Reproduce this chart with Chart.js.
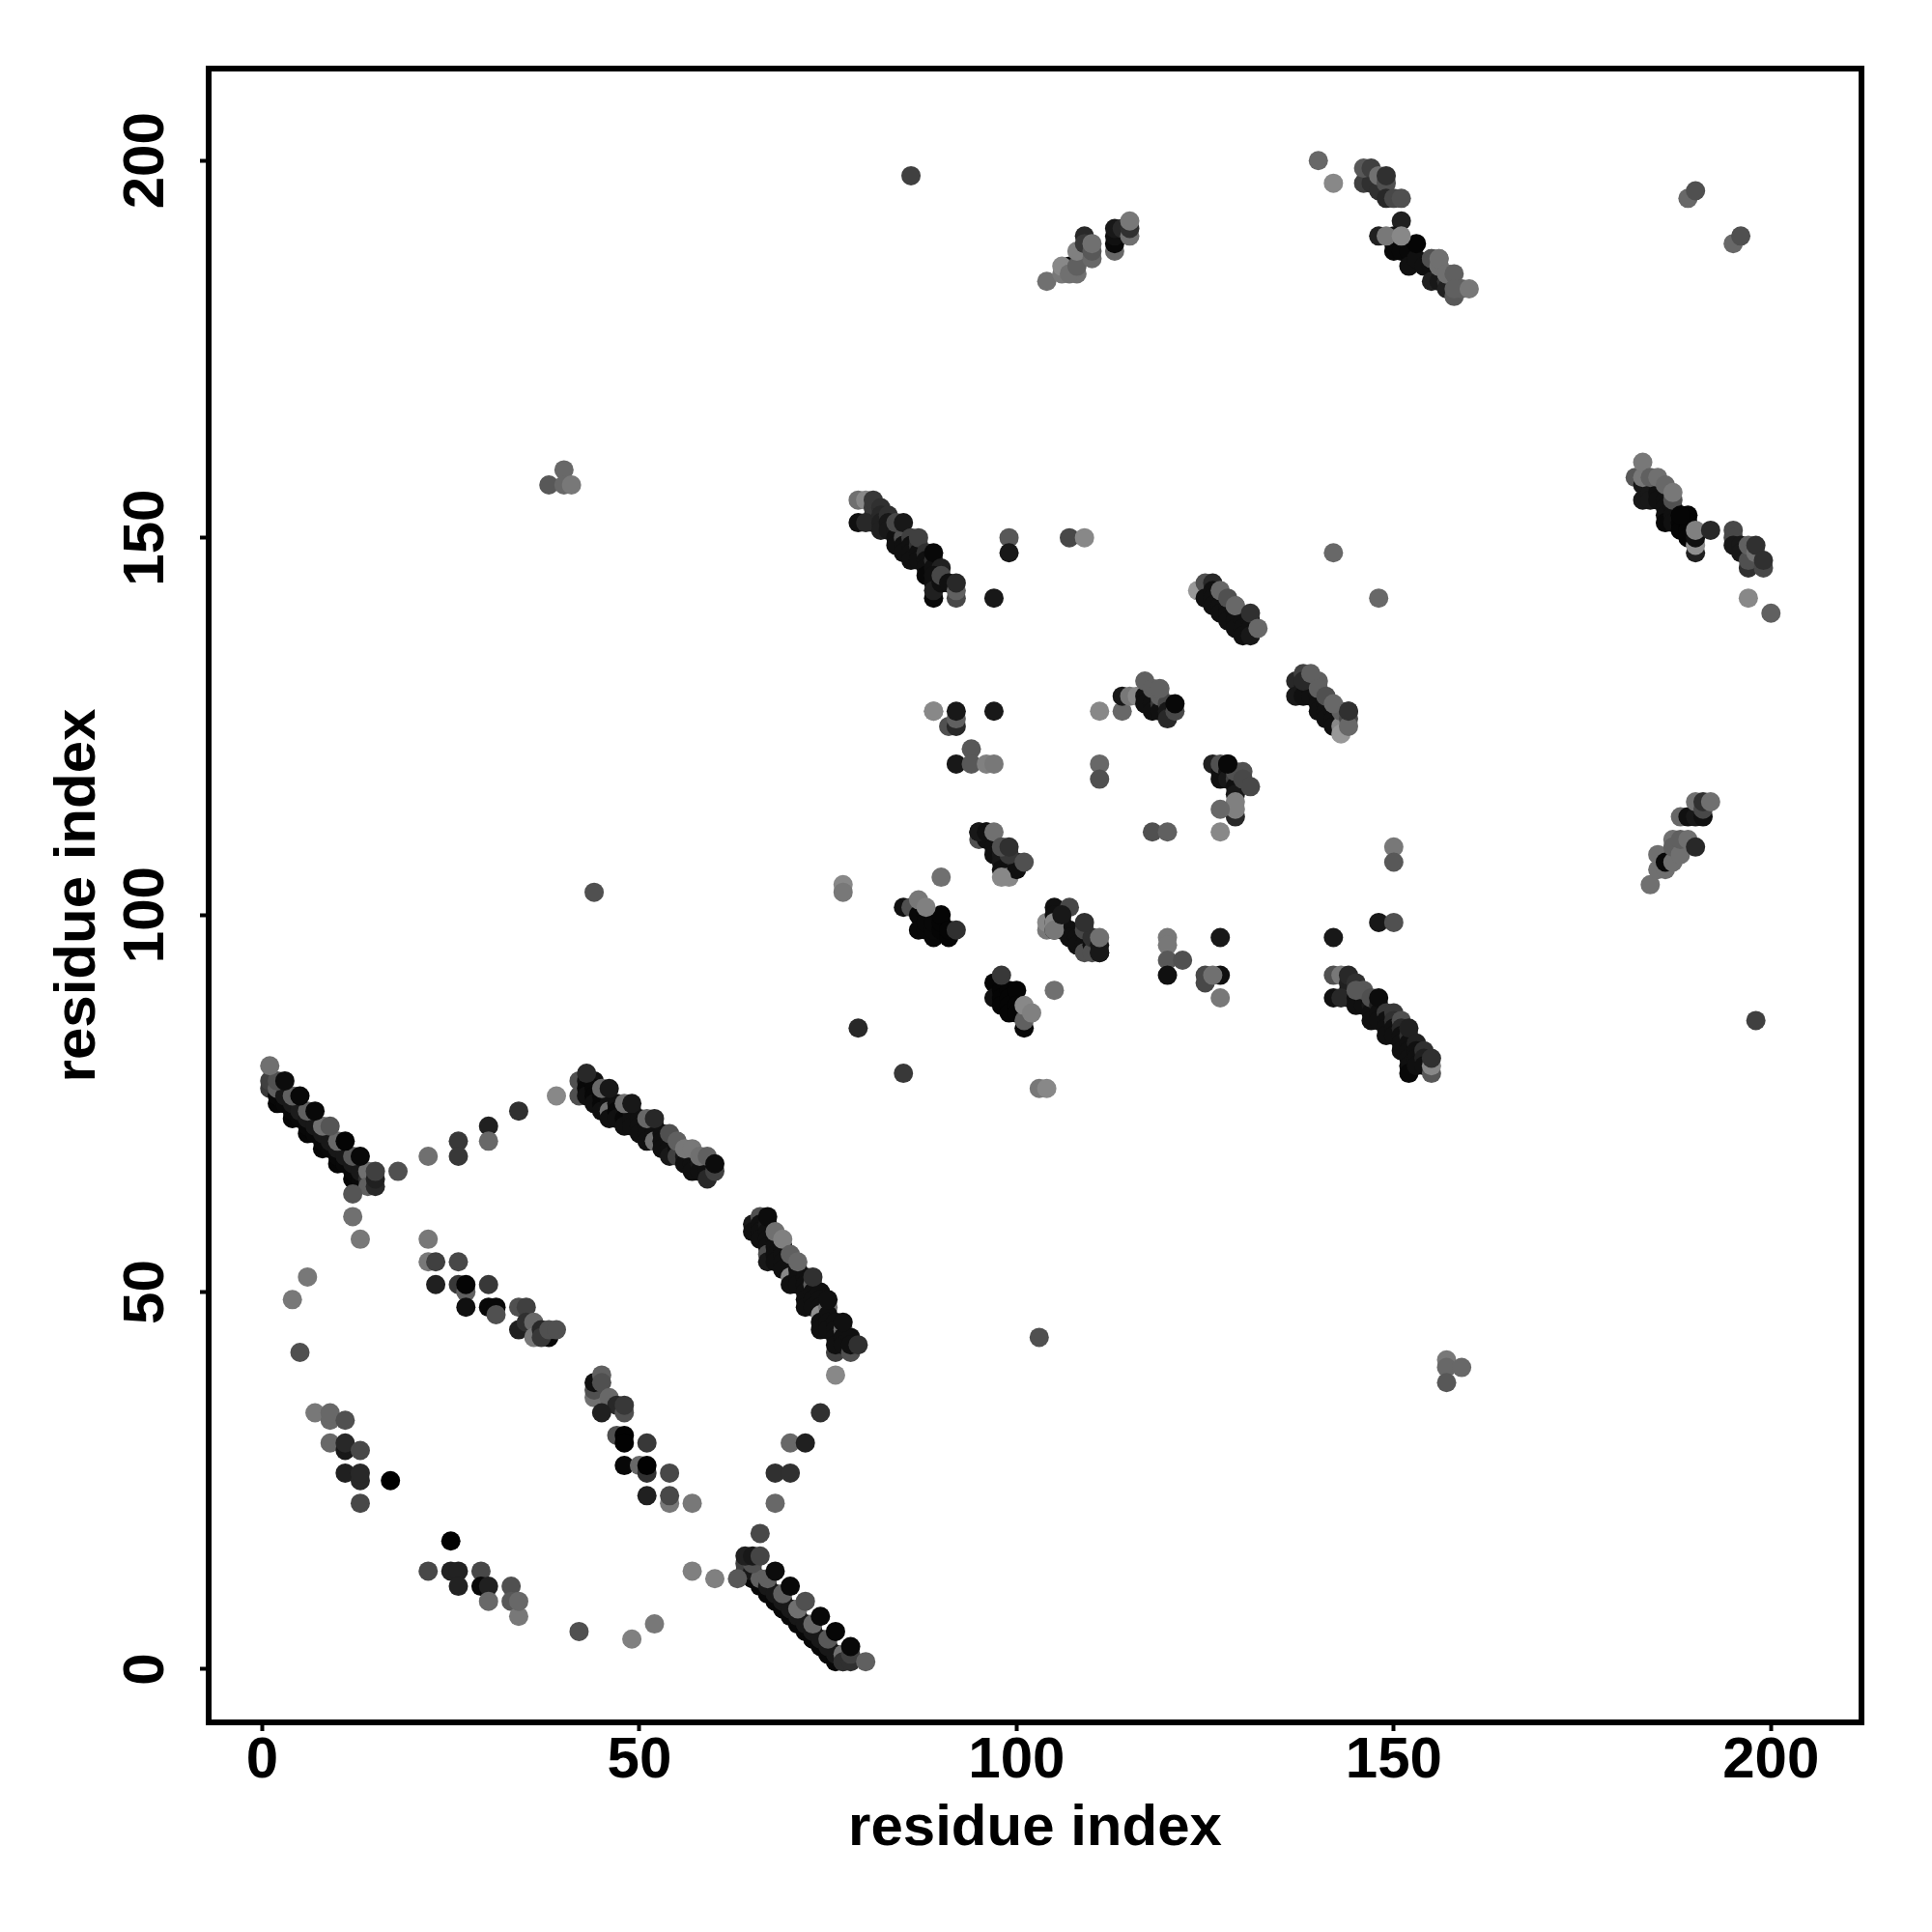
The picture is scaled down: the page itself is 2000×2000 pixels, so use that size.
<!DOCTYPE html>
<html>
<head>
<meta charset="utf-8">
<title>residue contacts</title>
<script src="https://cdn.jsdelivr.net/npm/chart.js@4"></script>
<style>
    body { margin: 0; background: #fff; }
    canvas { display: block; }
</style>
</head>
<body>
<canvas id="contactChart" width="2000" height="2000"></canvas>
<script>
const axisTitle = 'residue index';
const tickValues = [0, 50, 100, 150, 200];
const tickLabels = ['0', '50', '100', '150', '200'];

// shade = grey level of each contact (0 black .. 255 white)

// lone contacts
const scatterX = [86,198,38,40,40,41,157,157,157,159,44,103,6,4,5,42,49,52,57,60,63,66,68,68,70,70,72,74,76,22,26,26,30,30,34,39,18,12,12,13,79,85,77,77,90,89,97,99,99,107,109,142,148,111,111,118,120,127,120,120,120,122,120,127,127,125,125,126,127,105,142,148,150,150,150,103,104,197,200,189,190,195,196,140,142];
const scatterY = [198,86,157,159,157,157,41,40,38,40,103,44,52,49,42,5,4,6,13,12,12,18,22,26,26,30,30,34,39,68,70,68,72,70,74,76,66,63,60,57,85,79,104,103,105,127,142,150,148,150,150,148,142,120,118,111,111,111,97,96,94,94,92,97,92,92,91,92,89,90,97,99,99,109,107,77,77,142,140,195,196,189,190,200,197];
const scatterShade = [0x40,0x40,0x58,0x68,0x68,0x78,0x78,0x68,0x58,0x68,0x50,0x50,0x78,0x78,0x50,0x50,0x80,0x78,0x80,0x80,0x58,0x48,0x68,0x30,0x30,0x68,0x20,0x30,0x88,0x70,0x38,0x38,0x20,0x68,0x30,0x88,0x50,0x55,0x70,0x78,0x28,0x38,0x88,0x78,0x70,0x88,0x18,0x58,0x18,0x48,0x88,0x68,0x68,0x68,0x50,0x50,0x60,0x88,0x78,0x78,0x58,0x50,0x10,0x18,0x10,0x48,0x48,0x70,0x78,0x70,0x18,0x18,0x50,0x78,0x58,0x78,0x88,0x88,0x60,0x68,0x50,0x68,0x50,0x68,0x88];

// strip residues 1-16 against 64-80
const stripAX = [2,4,6,8,10,12, 1,2,3,4,5,6,7,8,9,10,11,12,13, 1,2,3,4,5,6,7,8,9,10,11,12,13,14, 2,4,6,8,10,12,14, 14,15,15, 1,3,5,7,9,11,13,15];
const stripAY = [75,73,71,69,67,65, 77,76,75,74,73,72,71,70,69,68,67,66,65, 78,77,76,75,74,73,72,71,70,69,68,67,66,65, 78,76,74,72,70,68,66, 64,64,65, 80,78,76,74,72,70,68,66];
const stripAShade = [6,6,6,6,6,6, 0x38,0x08,0x08,0x08,0x08,0x08,0x08,0x08,0x08,0x08,0x08,0x08,0x08, 0x40,0x60,0x18,0x18,0x1c,0x18,0x18,0x18,0x18,0x18,0x18,0x18,0x18,0x30, 0x50,0x60,0x60,0x70,0x68,0x58,0x70, 0x60,0x28,0x20, 0x70,0x0c,0x08,0x08,0x55,0x04,0x08,0x40];

// strip residues 65-80 against 1-15
const stripBX = [65,67,69,71,73,75, 64,65,66,67,68,69,70,71,72,73,74,75,76, 64,65,66,67,68,69,70,71,72,73,74,75,76,77, 65,67,69,71,73,75,77, 77,78,78, 64,65,66,68,70,72,74,76,78,80];
const stripBY = [12,10,8,6,4,2, 13,12,11,10,9,8,7,6,5,4,3,2,1, 14,13,12,11,10,9,8,7,6,5,4,3,2,1, 14,12,10,8,6,4,2, 1,1,2, 15,15,15,13,11,9,7,5,3,1];
const stripBShade = [6,6,6,6,6,6, 0x38,0x08,0x08,0x08,0x08,0x08,0x08,0x08,0x08,0x08,0x08,0x08,0x08, 0x40,0x18,0x60,0x18,0x18,0x18,0x18,0x18,0x18,0x18,0x18,0x18,0x18,0x30, 0x50,0x60,0x60,0x70,0x68,0x58,0x70, 0x30,0x30,0x40, 0x20,0x18,0x45,0x0c,0x08,0x50,0x08,0x06,0x08,0x60];

// strip residues 42-60 against 65-79
const stripCX = [42,42,43,43,43,44,44,44,44,45,45,45,46,46,46,47,47,47,48,48,48,49,49,49,50,50,50,51,51,51,52,52,52,53,53,53,54,54,54,55,55,56,56,57,57,57,58,58,59,59,59,60, 43,45,46,48,49,51,52,54,55,56,57,58,59,60];
const stripCY = [78,76,78,77,76,78,77,76,75,76,75,74,75,74,73,75,74,73,74,73,72,74,73,72,73,72,71,72,71,70,72,71,70,71,70,69,70,69,68,69,68,68,67,68,67,66,67,66,67,66,65,66, 79,77,77,75,75,73,73,71,70,69,69,68,68,67];
const stripCShade = [0x50,0x50,0x10,8,0x10,0x10,8,8,0x10,8,8,0x10,0x10,0x70,0x10,0x10,8,0x10,0x10,8,0x10,0x18,0x10,0x10,0x10,0x10,0x10,0x10,0x10,0x10,0x10,0x10,0x70,0x10,0x10,0x10,0x10,0x10,0x18,0x10,0x40,0x18,0x10,0x18,0x10,0x10,0x18,0x10,0x18,0x10,0x28,0x40, 0x28,0x68,0x18,0x70,0x18,0x68,0x28,0x50,0x60,0x78,0x78,0x70,0x60,0x0c];

// strip residues 65-79 against 42-60
const stripDX = [65,65,66,66,66,66,67,67,67,67,67,67,68,68,68,68,69,69,69,69,70,70,70,70,71,71,71,72,72,72,72,72,73,73,73,73,74,74,74,74,74,74,75,75,75,75,76,76,76,76,76,77,77,77,78,78,78, 67,68,69,70,71,73,75,77,79];
const stripDY = [59,58,60,59,58,57,59,58,57,56,55,54,57,56,55,54,56,55,54,53,54,53,52,51,53,52,51,52,51,50,49,48,51,50,49,48,50,49,48,47,46,45,48,47,46,45,46,45,44,42,43,45,44,43,44,42,43, 60,58,57,55,54,52,49,46,43];
const stripDShade = [0x18,0x10,0x50,0x10,0x10,0x10,0x18,0x10,0x10,0x10,0x50,0x18,0x10,0x10,0x10,0x10,0x10,0x10,0x10,0x10,0x10,0x10,0x88,0x10,0x10,0x10,0x10,0x10,0x10,0x10,0x10,0x10,0x60,0x10,0x10,0x10,0x10,0x10,0x10,0x90,0x10,0x10,0x70,0x10,0x10,0x10,0x10,0x10,0x10,0x40,0x10,0x70,0x10,0x10,0x10,0x50,0x10, 0x0c,0x70,0x80,0x60,0x68,0x30,0x10,0x10,0x30];

// residues 22-39 against 44-57
const groupEX = [22,22,23,26,23,26,27,27,30,27,30,31,31,34,35,34,35,36,36,37,38,37,38,39];
const groupEY = [57,54,54,54,51,51,50,51,51,48,48,48,47,48,48,45,46,46,44,45,44,44,45,45];
const groupEShade = [0x78,0x78,0x40,0x48,0x20,0x38,0x60,0x05,0x38,0x10,0x08,0x08,0x50,0x50,0x40,0x20,0x30,0x68,0x78,0x28,0x08,0x38,0x50,0x50];

// residues 44-57 against 22-39
const groupFX = [44,44,44,45,45,46,47,48,48,45,47,48,48,51,48,50,51,51,54,51,54,54,57];
const groupFY = [36,37,38,39,38,36,35,34,35,34,31,31,30,30,27,27,26,27,26,23,22,23,22];
const groupFShade = [0x70,0x50,0x10,0x60,0x50,0x68,0x28,0x50,0x38,0x20,0x50,0x02,0x02,0x38,0x08,0x68,0x30,0x02,0x48,0x20,0x78,0x48,0x78];

// residues 7-17 against 22-34 and 22-34 against 7-17
const groupGX = [7,9,9,11,9,11,11,13,11,13,13,17,13, 25,22,25,26,29,26,29,30,30,33,33,34,34];
const groupGY = [34,33,34,33,30,29,30,29,26,25,26,25,22, 17,13,13,13,13,11,11,11,9,11,9,7,9];
const groupGShade = [0x78,0x68,0x68,0x50,0x68,0x18,0x28,0x48,0x20,0x28,0x28,0x00,0x48, 0x02,0x48,0x22,0x22,0x48,0x22,0x08,0x20,0x68,0x50,0x58,0x78,0x68];

// strip residues 79-92 against 142-155
const stripHX = [79,80,81,81,81,79,80,81,82,82,82,82,83,83,83,84,84,84,85,85,85,84,85,86,86,86,86,87,87,87,87,88,88,88,88,89,89,89,90,89,89,89,89,90,90,91,92,92,92];
const stripHY = [155,155,152,153,154,152,152,155,154,153,152,151,153,152,151,151,150,149,150,149,148,152,152,150,149,148,147,149,148,147,150,148,147,146,145,147,146,148,146,144,145,142,143,144,145,144,142,143,144];
const stripHShade = [0x70,0x88,0x10,0x28,0x38,0x10,0x28,0x38,0x30,0x28,0x20,0x20,0x30,0x18,0x18,0x18,0x10,0x10,0x50,0x10,0x10,0x48,0x18,0x40,0x10,0x10,0x10,0x30,0x10,0x10,0x40,0x30,0x10,0x10,0x08,0x30,0x10,0x08,0x20,0x10,0x10,0x08,0x20,0x10,0x48,0x10,0x48,0x60,0x28];

// strip residues 142-155 against 79-92
const stripIX = [142,143,144,144,144,142,143,144,145,145,145,146,146,146,145,147,147,147,147,148,148,148,148,149,149,149,149,150,150,150,150,151,151,151,151,151,152,152,152,152,152,152,152,153,153,153,153,154,154,154,155,155,155];
const stripIY = [92,92,89,90,91,89,89,92,91,89,88,89,88,90,90,88,87,86,89,88,87,86,89,87,86,85,84,87,86,85,84,86,85,84,83,82,84,83,82,81,80,79,85,83,82,81,80,82,81,80,79,80,81];
const stripIShade = [0x50,0x78,0x10,0x10,0x20,0x10,0x28,0x28,0x30,0x10,0x10,0x10,0x10,0x58,0x58,0x18,0x10,0x10,0x50,0x20,0x10,0x10,0x0c,0x38,0x10,0x10,0x10,0x38,0x30,0x10,0x10,0x50,0x28,0x10,0x10,0x10,0x30,0x10,0x10,0x10,0x10,0x08,0x20,0x20,0x10,0x10,0x10,0x30,0x20,0x10,0x58,0x88,0x30];

// residues 124-132 against 136-144
const groupJX = [124,125,126,125,126,126,126,127,127,127,128,128,128,129,129,129,129,130,130,130,131,131,131,127,128,129,131,132];
const groupJY = [143,144,144,142,143,142,141,142,141,140,141,140,139,140,139,138,141,139,138,137,139,138,137,143,142,141,140,138];
const groupJShade = [0x98,0x50,0x28,0x10,0x10,0x10,0x10,0x10,0x10,0x10,0x10,0x10,0x10,0x10,0x10,0x10,0x68,0x10,0x10,0x10,0x10,0x10,0x18,0x68,0x50,0x68,0x30,0x68];

// residues 136-144 against 124-132
const groupKX = [137,137,138,138,138,139,139,139,140,140,140,140,141,141,141,142,142,142,143,143,143,143,144,144,144,138,139,140,141,142,144];
const groupKY = [131,129,132,130,129,131,130,129,131,129,128,127,128,127,126,127,126,125,126,125,124,127,127,126,125,131,132,130,129,128,127];
const groupKShade = [0x28,0x18,0x40,0x18,0x10,0x50,0x10,0x10,0x60,0x10,0x10,0x10,0x10,0x10,0x10,0x10,0x10,0x10,0x10,0x88,0x98,0x60,0x30,0x48,0x68,0x28,0x60,0x60,0x50,0x68,0x30];

// residues 89-97 against 119-127 and 114-121 against 125-131
const groupLX = [89,91,92,92,92,97,94,92,94,96,97, 111,114,114,115,116,117,117,118,118,119,119,119,120,120,120,121,121, 117,118,119];
const groupLY = [127,125,125,126,127,127,122,120,120,120,120, 127,127,129,129,129,129,128,128,127,128,127,129,128,127,126,127,128, 131,130,130];
const groupLShade = [0x88,0x50,0x28,0x60,0x18,0x18,0x58,0x18,0x58,0x80,0x78, 0x88,0x68,0x18,0x78,0x88,0x10,0x10,0x10,0x10,0x38,0x10,0x60,0x48,0x18,0x28,0x48,0x08, 0x60,0x60,0x60];

// residues 125-132 against 113-120
const groupMX = [126,127,127,127,128,128,128,129,129,129,129,130,130,131,128,129,129,129,127];
const groupMY = [120,119,118,120,119,118,120,118,117,116,119,119,118,117,120,113,114,115,114];
const groupMShade = [0x20,0x10,0x10,0x50,0x10,0x18,0x08,0x40,0x10,0x18,0x50,0x50,0x48,0x48,0x08,0x28,0x80,0x80,0x68];

// residues 95-101 against 104-111
const groupNX = [95,95,96,96,97,97,98,98,98,99,99,99,100,100,99,98,101,95,96,97,98,99];
const groupNY = [110,111,111,110,109,108,108,107,106,107,106,105,107,106,108,105,107,111,111,111,109,109];
const groupNShade = [0x50,0x18,0x10,0x10,0x10,0x10,0x18,0x18,0x10,0x10,0x10,0x88,0x20,0x10,0x38,0x88,0x50,0x18,0x10,0x70,0x50,0x30];

// residues 104-111 against 95-101
const groupOX = [104,104,105,105,105,105,106,106,106,107,107,108,108,109,109,109,110,110,111,110,111,111,105,105,107,109,111,106];
const groupOY = [98,99,101,100,99,98,100,99,98,98,97,97,96,96,95,98,96,95,95,97,96,95,99,98,101,99,97,100];
const groupOShade = [0x78,0x88,0x10,0x10,0x10,0x10,0x18,0x10,0x18,0x10,0x10,0x10,0x10,0x10,0x50,0x48,0x10,0x50,0x18,0x30,0x18,0x18,0x88,0x78,0x48,0x30,0x70,0x18];

// residues 85-92 against 97-102
const groupPX = [85,86,87,88,87,88,88,89,89,89,90,90,90,91,91,92,87,88];
const groupPY = [101,101,100,100,98,98,99,97,98,99,98,99,100,97,98,98,102,101];
const groupPShade = [0x10,0x50,0x08,0x08,0x08,0x08,0x08,0x08,0x08,0x08,0x05,0x05,0x05,0x05,0x05,0x30,0x78,0x80];

// residues 97-102 against 85-92
const groupQX = [97,97,98,98,98,99,99,99,99,100,100,100,101,101,101,102,98];
const groupQY = [91,89,90,89,88,90,89,88,87,90,88,87,85,86,88,87,92];
const groupQShade = [0x05,0x10,0x05,0x05,0x05,0x05,0x05,0x05,0x05,0x05,0x05,0x05,0x08,0x60,0x88,0x80,0x38];

// residues 146-160 against 182-199
const stripRX = [146,147,146,147,148,148,149,149,149,150,151,151,148,150,150,150,151,152,152,153,153,154,155,155,156,156,157,157,158,155,156,157,149,151,155,156,156,157,158,159,158,160];
const stripRY = [197,197,199,199,196,198,197,195,198,195,195,192,190,190,189,188,188,188,186,187,189,186,186,184,184,186,184,183,182,187,187,185,190,190,187,186,187,185,185,183,183,183];
const stripRShade = [0x40,0x30,0x58,0x40,0x30,0x70,0x50,0x28,0x30,0x48,0x50,0x20,0x20,0x10,0x05,0x08,0x08,0x08,0x10,0x10,0x05,0x10,0x10,0x20,0x18,0x70,0x30,0x20,0x58,0x50,0x70,0x70,0x78,0x88,0x50,0x70,0x70,0x70,0x60,0x60,0x60,0x78];

// residues 182-192 against 148-160
const stripSX = [182,183,184,183,184,184,185,185,186,186,186,186,187,187,187,188,188,188,189,189,189,183,183,184,185,186,187,187,188,189,190,190,190,190,192];
const stripSY = [158,157,157,155,156,155,156,155,155,154,153,152,154,153,152,153,152,151,153,152,151,158,160,158,158,157,155,156,153,150,148,149,150,151,151];
const stripSShade = [0x58,0x18,0x18,0x18,0x18,0x18,0x10,0x10,0x10,0x10,0x10,0x08,0x10,0x10,0x10,0x05,0x05,0x05,0x05,0x05,0x05,0x78,0x78,0x60,0x70,0x68,0x50,0x78,0x05,0x05,0x20,0x90,0x10,0x80,0x28];

// residues 195-200 against 146-151
const groupTX = [195,195,195,196,196,197,197,197,198,198,199,199];
const groupTY = [151,150,149,149,148,146,147,149,148,149,146,147];
const groupTShade = [0x48,0x48,0x18,0x18,0x18,0x30,0x50,0x60,0x70,0x30,0x48,0x30];

// residues 104-115 against 184-192
const groupUX = [104,106,107,108,106,107,108,108,109,109,110,110,110,113,113,113,113,114,115,115,115];
const groupUY = [184,185,186,185,186,185,186,188,190,189,187,188,189,188,189,190,191,191,190,191,192];
const groupUShade = [0x70,0x78,0x08,0x70,0x88,0x70,0x60,0x80,0x28,0x38,0x68,0x58,0x70,0x68,0x08,0x10,0x18,0x28,0x70,0x30,0x78];

// residues 184-192 against 104-115
const groupVX = [184,185,186,185,186,187,187,187,188,188,189,190,188,189,190,191,190,191,191,192];
const groupVY = [104,106,106,108,107,107,110,109,108,110,110,109,113,113,113,113,115,114,115,115];
const groupVShade = [0x70,0x70,0x70,0x70,0x08,0x70,0x70,0x60,0x70,0x60,0x70,0x28,0x68,0x10,0x18,0x10,0x70,0x48,0x30,0x70];

const groups = [
    [scatterX, scatterY, scatterShade],
    [stripAX, stripAY, stripAShade],
    [stripBX, stripBY, stripBShade],
    [stripCX, stripCY, stripCShade],
    [stripDX, stripDY, stripDShade],
    [groupEX, groupEY, groupEShade],
    [groupFX, groupFY, groupFShade],
    [groupGX, groupGY, groupGShade],
    [stripHX, stripHY, stripHShade],
    [stripIX, stripIY, stripIShade],
    [groupJX, groupJY, groupJShade],
    [groupKX, groupKY, groupKShade],
    [groupLX, groupLY, groupLShade],
    [groupMX, groupMY, groupMShade],
    [groupNX, groupNY, groupNShade],
    [groupOX, groupOY, groupOShade],
    [groupPX, groupPY, groupPShade],
    [groupQX, groupQY, groupQShade],
    [stripRX, stripRY, stripRShade],
    [stripSX, stripSY, stripSShade],
    [groupTX, groupTY, groupTShade],
    [groupUX, groupUY, groupUShade],
    [groupVX, groupVY, groupVShade]
];

const tickFont = { family: '"Liberation Sans"', size: 60, weight: 'bold' };
const titleFont = { family: '"Liberation Sans"', size: 60, weight: 'bold' };

// box round the plot area, base R style
const frameBox = {
    id: 'frameBox',
    afterDatasetsDraw(chart) {
        const { ctx, chartArea } = chart;
        ctx.save();
        ctx.strokeStyle = '#000';
        ctx.lineWidth = 6;
        ctx.strokeRect(chartArea.left, chartArea.top, chartArea.width, chartArea.height);
        ctx.restore();
    }
};

function axisOptions(min, max, fit) {
    return {
        type: 'linear',
        min: min,
        max: max,
        afterBuildTicks: (scale) => { scale.ticks = tickValues.map(v => ({ value: v })); },
        afterFit: fit,
        border: { display: false },
        grid: { drawOnChartArea: false, drawTicks: true, tickLength: 9, tickWidth: 4, tickColor: '#000' },
        title: { display: true, text: axisTitle, color: '#000', font: titleFont, padding: 0 }
    };
}

const xAxis = axisOptions(-7.1, 212, (scale) => { scale.height = 217; });
xAxis.title.padding = { top: 0, bottom: 71 };
xAxis.ticks = {
    color: '#000', font: tickFont, padding: -5, maxRotation: 0, minRotation: 0, autoSkip: false,
    callback: (v) => tickLabels[tickValues.indexOf(v)]
};

const yAxis = axisOptions(-7.05, 212.2, (scale) => { scale.width = 216; });
yAxis.title.padding = { top: 45, bottom: 0 };
yAxis.ticks = {
    color: '#000', font: tickFont, padding: 4, minRotation: 90, maxRotation: 90, autoSkip: false, crossAlign: 'center',
    callback: (v) => tickLabels[tickValues.indexOf(v)]
};

new Chart(document.getElementById('contactChart').getContext('2d'), {
    type: 'scatter',
    data: {
        datasets: groups.map(([xs, ys, shades]) => ({
            data: xs.map((x, i) => ({ x: x, y: ys[i] })),
            backgroundColor: shades.map(s => `rgb(${s},${s},${s})`),
            pointRadius: 10,
            pointBorderWidth: 0,
            borderWidth: 0
        }))
    },
    options: {
        responsive: false,
        animation: false,
        devicePixelRatio: 1,
        layout: { padding: { left: 0, right: 73, top: 71, bottom: 0 } },
        plugins: { legend: { display: false }, tooltip: { enabled: false } },
        scales: { x: xAxis, y: yAxis }
    },
    plugins: [frameBox]
});
</script>
</body>
</html>
